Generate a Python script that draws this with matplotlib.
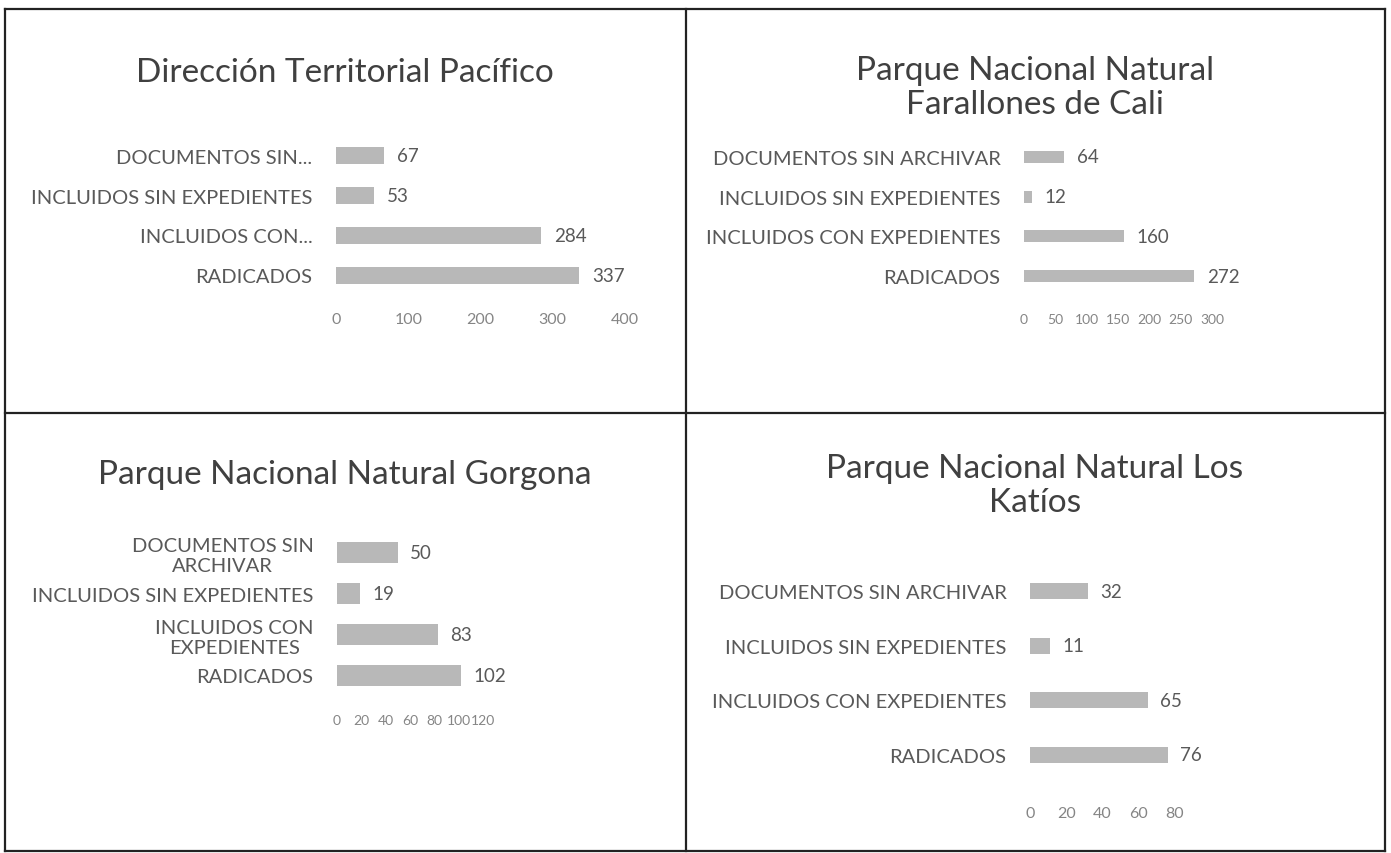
import matplotlib.pyplot as plt
from matplotlib.lines import Line2D

# categories bottom to top, as drawn
cats_full = ['RADICADOS', 'INCLUIDOS CON EXPEDIENTES', 'INCLUIDOS SIN EXPEDIENTES', 'DOCUMENTOS SIN ARCHIVAR']
cats_p1 = ['RADICADOS', 'INCLUIDOS CON...', 'INCLUIDOS SIN EXPEDIENTES', 'DOCUMENTOS SIN...']
cats_p3 = ['RADICADOS', 'INCLUIDOS CON\nEXPEDIENTES', 'INCLUIDOS SIN EXPEDIENTES', 'DOCUMENTOS SIN\nARCHIVAR']

vals_pacifico = [337, 284, 53, 67]
vals_farallones = [272, 160, 12, 64]
vals_gorgona = [102, 83, 19, 50]
vals_katios = [76, 65, 11, 32]

titles = ['Dirección Territorial Pacífico',
          'Parque Nacional Natural\nFarallones de Cali',
          'Parque Nacional Natural Gorgona',
          'Parque Nacional Natural Los\nKatíos']

W, H = 1391, 854
plt.rcParams['font.family'] = ['Lato', 'DejaVu Sans']
BAR = '#b8b8b8'
TXT = '#595959'

fig = plt.figure(figsize=(W / 100, H / 100), dpi=100)
fig.set_facecolor('white')


def px(x0, ytop, x1, ybot):
    return [x0 / W, 1 - ybot / H, (x1 - x0) / W, (ybot - ytop) / H]


def panel(rect, cats, vals, xmax, step, pad, bh, tfs):
    ax = fig.add_axes(rect)
    y = range(len(cats))
    bars = ax.barh(y, vals, height=bh, color=BAR)
    ax.bar_label(bars, padding=9, color=TXT, fontsize=13.5)
    ax.set_xlim(0, xmax)
    ax.set_ylim(-0.5, len(cats) - 0.5)
    ax.set_xticks(range(0, xmax + 1, step))
    ax.set_xticklabels([str(v) for v in range(0, xmax + 1, step)],
                       fontsize=tfs, color='#858585')
    ax.set_yticks(list(y))
    ax.set_yticklabels(cats, fontsize=14.5, color=TXT, linespacing=1.2,
                       multialignment='center')
    ax.tick_params(axis='x', length=0, pad=pad)
    ax.tick_params(axis='y', length=0, pad=17)
    for s in ax.spines.values():
        s.set_visible(False)
    ax.set_facecolor('none')
    return ax


panel(px(336, 137, 625, 296), cats_p1, vals_pacifico, 400, 100, 12, 0.43, 11.5)
panel(px(1024, 138, 1212, 297), cats_full, vals_farallones, 300, 50, 12, 0.3, 10)
panel(px(337, 533, 483, 697), cats_p3, vals_gorgona, 120, 20, 13, 0.53, 10)
panel(px(1030, 565, 1175, 783), cats_full, vals_katios, 80, 20, 17, 0.3, 11.5)

# titles
title_pos = [(345, 73), (1035, 88), (345, 475), (1035, 486)]
for (tx, ty), t in zip(title_pos, titles):
    fig.text(tx / W, 1 - ty / H, t, ha='center', va='center', fontsize=24,
             color='#404040', linespacing=1.15)

# table borders
lw = 1.6
segs = [((5, 10), (1385, 10)), ((5, 414), (1385, 414)), ((5, 852), (1385, 852)),
        ((5, 10), (5, 852)), ((686, 10), (686, 852)), ((1385, 10), (1385, 852))]
for (xa, ya), (xb, yb) in segs:
    fig.add_artist(Line2D([xa / W, xb / W], [1 - ya / H, 1 - yb / H],
                          color='#222222', lw=lw, transform=fig.transFigure))

fig.savefig('out.png', dpi=100)
